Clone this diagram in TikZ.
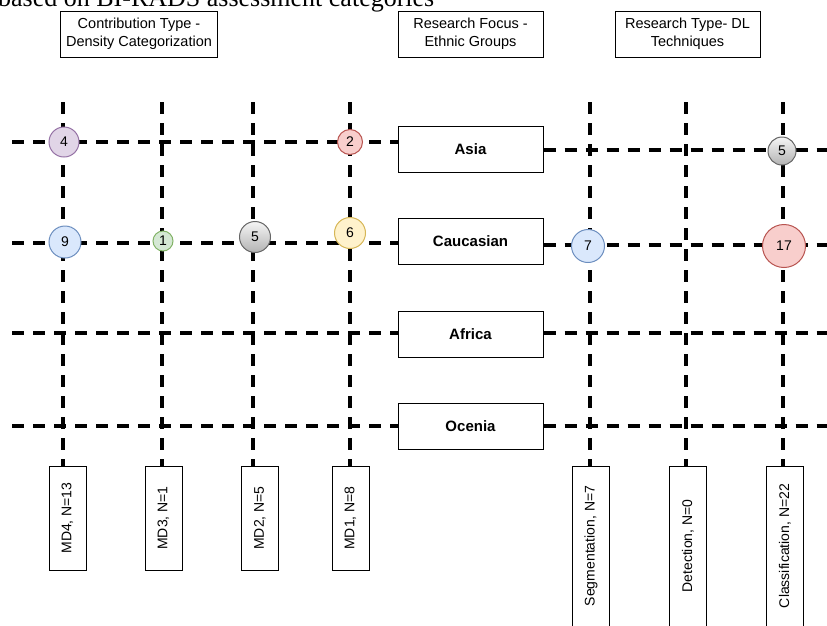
\documentclass[tikz,border=0pt]{standalone}
\usepackage{fontspec}
\setmainfont{Liberation Sans}
\newfontfamily\captionserif{Liberation Serif}
\usetikzlibrary{positioning}

\definecolor{purplefill}{HTML}{E1D5E7}
\definecolor{purpleline}{HTML}{9673A6}
\definecolor{redfill}{HTML}{F8CECC}
\definecolor{redline}{HTML}{B85450}
\definecolor{bluefill}{HTML}{DAE8FC}
\definecolor{blueline}{HTML}{6C8EBF}
\definecolor{greenfill}{HTML}{D5E8D4}
\definecolor{greenline}{HTML}{82B366}
\definecolor{yellowfill}{HTML}{FFF2CC}
\definecolor{yellowline}{HTML}{D6B656}
\definecolor{greytop}{HTML}{F5F5F5}
\definecolor{greybottom}{HTML}{B3B3B3}
\definecolor{greyline}{HTML}{666666}

\tikzset{
    gridline/.style={line width=3.5pt, dash pattern=on 12pt off 9pt},
    headbox/.style={draw, line width=1pt, minimum width=145pt, minimum height=46pt,
        align=center, font=\fontsize{14.5}{18}\selectfont},
    groupbox/.style={draw, line width=1pt, minimum width=145pt, minimum height=46pt,
        font=\fontsize{15}{17}\selectfont\bfseries},
    mdbox/.style={draw, line width=1pt, rotate=90, minimum width=104pt, minimum height=37pt,
        inner sep=0pt, font=\fontsize{14}{17}\selectfont},
    dlbox/.style={mdbox, minimum width=160pt},
    count/.style={circle, draw, line width=1pt, inner sep=0pt, font=\fontsize{14}{16}\selectfont},
    purplecount/.style={count, fill=purplefill, draw=purpleline},
    redcount/.style={count, fill=redfill, draw=redline},
    bluecount/.style={count, fill=bluefill, draw=blueline},
    greencount/.style={count, fill=greenfill, draw=greenline},
    yellowcount/.style={count, fill=yellowfill, draw=yellowline},
    greycount/.style={count, top color=greytop, bottom color=greybottom, draw=greyline}
}

\begin{document}
\begin{tikzpicture}[x=1pt, y=-1pt]
    \useasboundingbox (0,0) rectangle (827,625);
    \clip (0,0) rectangle (827,625);

    \node[anchor=base west, inner sep=0pt, font=\captionserif\fontsize{26}{30}\selectfont] (caption) at (-2,6)
        {based on BI-RADS assessment categories};

    % headers
    \node[headbox, minimum width=157pt] (contrib) at (139,34) {Contribution Type -\\Density Categorization};
    \node[headbox] (focus)  at (470.5,34) {Research Focus -\\Ethnic Groups};
    \node[headbox] (dltype) at (687.5,34) {Research Type- DL\\Techniques};

    % ethnic groups
    \node[groupbox] (asia)      at (470.5,149) {Asia};
    \node[groupbox] (caucasian) at (470.5,241) {Caucasian};
    \node[groupbox] (africa)    at (470.5,334) {Africa};
    \node[groupbox] (ocenia)    at (470.5,426) {Ocenia};

    % categories at the bottom
    \node[mdbox] (md4) at (67.5,518) {MD4, N=13};
    \node[mdbox] (md3) at (163.5,518) {MD3, N=1};
    \node[mdbox] (md2) at (260,518) {MD2, N=5};
    \node[mdbox] (md1) at (350.5,518) {MD1, N=8};
    \node[dlbox] (seg) at (591,546) {Segmentation, N=7};
    \node[dlbox] (det) at (688,546) {Detection, N=0};
    \node[dlbox] (cls) at (785,546) {Classification, N=22};

    % free ends of the dashed lines
    \coordinate (tmd4) at (63,102);
    \coordinate (tmd3) at (162,102);
    \coordinate (tmd2) at (253,102);
    \coordinate (tmd1) at (350,102);
    \coordinate (tseg) at (590,102);
    \coordinate (tdet) at (686,102);
    \coordinate (tcls) at (783,102);
    \coordinate (lasia) at (12,142);
    \coordinate (lcau)  at (12,243);
    \coordinate (lafr)  at (12,333);
    \coordinate (loce)  at (12,426);
    \coordinate (rasia) at (827,150);
    \coordinate (rcau)  at (827,245);
    \coordinate (rafr)  at (827,333);
    \coordinate (roce)  at (827,426);

    \draw[gridline] (tmd4) -- (tmd4 |- md4.east);
    \draw[gridline] (tmd3) -- (tmd3 |- md3.east);
    \draw[gridline] (tmd2) -- (tmd2 |- md2.east);
    \draw[gridline] (tmd1) -- (tmd1 |- md1.east);
    \draw[gridline] (tseg) -- (tseg |- seg.east);
    \draw[gridline] (tdet) -- (tdet |- det.east);
    \draw[gridline] (tcls) -- (tcls |- cls.east);

    \draw[gridline] (lasia) -- (lasia -| asia.west);
    \draw[gridline] (lcau)  -- (lcau -| caucasian.west);
    \draw[gridline] (lafr)  -- (lafr -| africa.west);
    \draw[gridline] (loce)  -- (loce -| ocenia.west);
    \draw[gridline] (asia.east |- rasia) -- (rasia);
    \draw[gridline] (caucasian.east |- rcau) -- (rcau);
    \draw[gridline] (africa.east |- rafr) -- (rafr);
    \draw[gridline] (ocenia.east |- roce) -- (roce);

    % counts
    \node[purplecount, minimum size=30pt] (n4)  at (64,142)  {4};
    \node[redcount,    minimum size=25pt] (n2)  at (350,142) {2};
    \node[bluecount,   minimum size=32pt] (n9)  at (65,242)  {9};
    \node[greencount,  minimum size=20pt] (n1)  at (163,241) {1};
    \node[greycount,   minimum size=31pt] (n5a) at (255,237) {5};
    \node[yellowcount, minimum size=31pt] (n6)  at (350,233) {6};
    \node[greycount,   minimum size=28pt] (n5b) at (782,151) {5};
    \node[bluecount,   minimum size=33pt] (n7)  at (588,246) {7};
    \node[redcount,    minimum size=43pt] (n17) at (784,246) {17};
\end{tikzpicture}
\end{document}
